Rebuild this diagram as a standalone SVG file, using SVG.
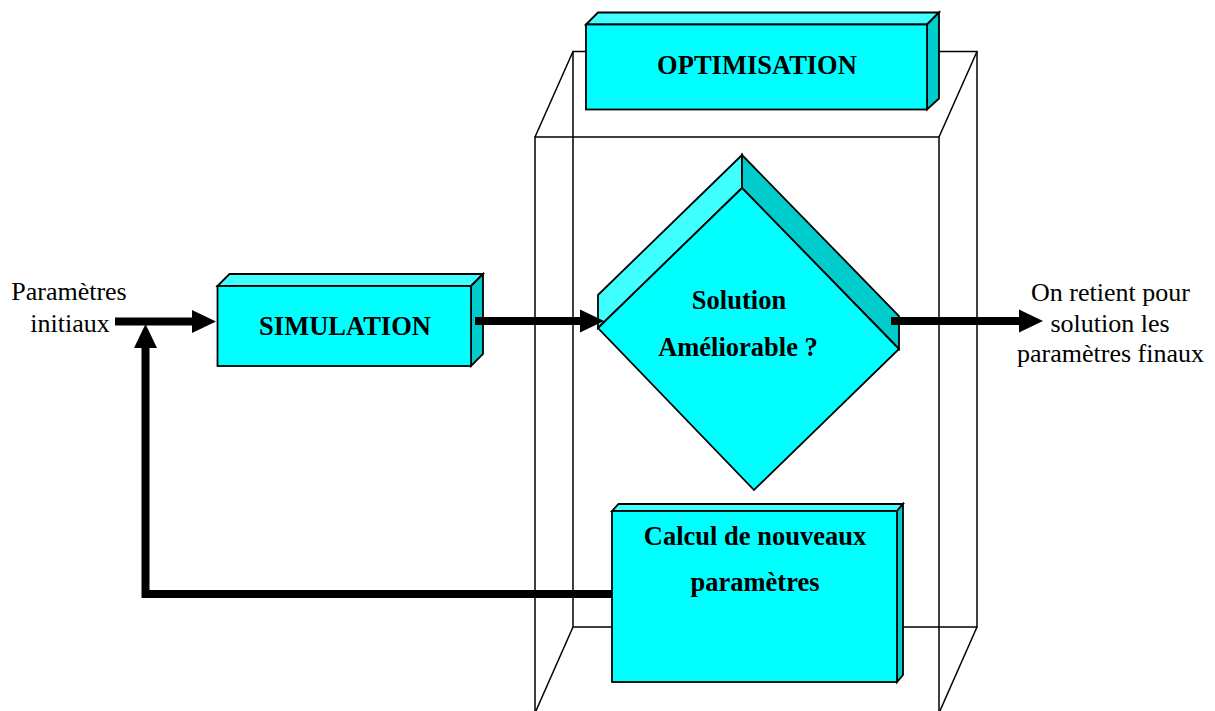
<svg xmlns="http://www.w3.org/2000/svg" width="1215" height="711" viewBox="0 0 1215 711">
  <defs>
    <style>
      .front { fill: #00FFFF; stroke: #000; stroke-width: 1.8; stroke-linejoin: miter; }
      .top { fill: #3FFFFF; stroke: #000; stroke-width: 1.8; stroke-linejoin: miter; }
      .side { fill: #00CCCC; stroke: #000; stroke-width: 1.8; stroke-linejoin: miter; }
      .wire { fill: none; stroke: #000; stroke-width: 1.5; }
      .conn { fill: none; stroke: #000; stroke-width: 8; stroke-linejoin: miter; stroke-linecap: butt; }
      .lbl { font-family: "Liberation Serif", "Times New Roman", serif; font-weight: bold; font-size: 26.5px; fill: #000; text-anchor: middle; }
      .txt { font-family: "Liberation Serif", "Times New Roman", serif; font-size: 26px; fill: #000; text-anchor: middle; }
    </style>
    <marker id="arrow" markerUnits="userSpaceOnUse" markerWidth="24" markerHeight="24" refX="0" refY="12" orient="auto" overflow="visible">
      <path d="M0,0.5 L24,12 L0,23.5 Z" fill="#000"/>
    </marker>
  </defs>
  <rect width="1215" height="711" fill="#fff"/>

  <!-- wireframe box OPTIMISATION container -->
  <g id="container">
    <rect class="wire" x="573" y="51.5" width="404" height="575.5"/>
    <rect class="wire" x="535" y="137" width="404" height="590"/>
    <line class="wire" x1="535" y1="137" x2="573" y2="51.5"/>
    <line class="wire" x1="939" y1="137" x2="977" y2="51.5"/>
    <line class="wire" x1="535" y1="713" x2="573" y2="627"/>
    <line class="wire" x1="939" y1="713" x2="977" y2="627"/>
  </g>

  <g id="optimisation">
    <polygon class="top" points="586,24.5 598,12.5 939,12.5 927,24.5"/>
    <polygon class="side" points="927,24.5 939,12.5 939,98.5 927,109.5"/>
    <rect class="front" x="586" y="24.5" width="341" height="85"/>
    <text class="lbl" x="757" y="74">OPTIMISATION</text>
  </g>

  <g id="simulation">
    <polygon class="top" points="217.5,286 229.5,274 483,274 471,286"/>
    <polygon class="side" points="471,286 483,274 483,354 471,366"/>
    <rect class="front" x="217.5" y="286" width="253.5" height="80"/>
    <text class="lbl" x="345" y="335">SIMULATION</text>
  </g>

  <g id="decision">
    <polygon class="top" points="598,295 742,155 742,188 598,328"/>
    <polygon class="side" points="742,155 899,316 899,349 742,188"/>
    <polygon class="front" points="742,188 899,349 754,490 598,328"/>
    <text class="lbl" x="739" y="309">Solution</text>
    <text class="lbl" x="738" y="356">Améliorable ?</text>
  </g>

  <g id="calcul">
    <polygon class="top" points="612,511 618.5,504 903,504 897,511"/>
    <polygon class="side" points="897,511 903,504 903,675 897,682"/>
    <rect class="front" x="612" y="511" width="285" height="171"/>
    <text class="lbl" x="755" y="545">Calcul de nouveaux</text>
    <text class="lbl" x="755" y="591">paramètres</text>
  </g>

  <g id="input-label">
    <text class="txt" x="69" y="300">Paramètres</text>
    <text class="txt" x="70" y="331.5">initiaux</text>
  </g>

  <g id="output-label">
    <text class="txt" x="1110.5" y="301">On retient pour</text>
    <text class="txt" x="1110" y="332">solution les</text>
    <text class="txt" x="1110.5" y="362">paramètres finaux</text>
  </g>

  <g id="connectors">
    <path class="conn" d="M115,321.5 H192" marker-end="url(#arrow)"/>
    <path class="conn" d="M475,321 H580" marker-end="url(#arrow)"/>
    <path class="conn" d="M891,321 H1019" marker-end="url(#arrow)"/>
    <path class="conn" d="M612,594 H145.5 V348" marker-end="url(#arrow)"/>
  </g>
</svg>
